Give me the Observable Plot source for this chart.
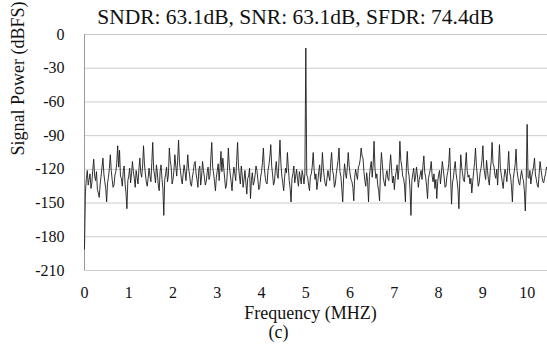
<!DOCTYPE html>
<html><head><meta charset="utf-8">
<script src="https://cdn.jsdelivr.net/npm/d3@7"></script>
<script src="https://cdn.jsdelivr.net/npm/@observablehq/plot@0.6"></script>
<style>
body{margin:0;background:#fff}
#chart svg, #chart svg text{font-family:"Liberation Serif","Tinos","Times New Roman",serif !important;}
</style>
</head><body><div id="chart"></div>
<script>
const titleText = "SNDR: 63.1dB, SNR: 63.1dB, SFDR: 74.4dB";
const xLabel = "Frequency (MHZ)";
const yLabel = "Signal Power (dBFS)";
const caption = "(c)";
const binWidthMHz = 1 / 48;
const powerDbfs = [
  -191,-140,-128,-121,-134,-129,-124,-137,-132,-120,-111,-126,-130,-122,-138,-141,-145,-133,-126,-118,-110,-124,-131,-137,
  -149,-132,-127,-119,-107,-121,-129,-136,-134,-125,-122,-114,-99,-118,-103,-126,-128,-135,-122,-117,-133,-141,-155,-130,
  -126,-119,-132,-124,-113,-122,-128,-136,-121,-127,-133,-120,-110,-123,-127,-117,-99,-115,-124,-131,-135,-128,-119,-126,
  -131,-114,-96,-120,-125,-132,-116,-123,-134,-139,-122,-116,-128,-137,-161,-129,-124,-118,-131,-125,-101,-112,-118,-133,
  -129,-121,-107,-117,-126,-112,-94,-114,-121,-128,-133,-124,-116,-122,-130,-119,-107,-120,-125,-133,-135,-127,-122,-115,
  -113,-124,-129,-136,-120,-117,-134,-126,-113,-121,-127,-134,-131,-123,-118,-129,-126,-110,-96,-118,-124,-131,-139,-127,
  -121,-115,-130,-118,-104,-122,-110,-119,-128,-137,-134,-121,-101,-116,-124,-131,-139,-126,-118,-124,-130,-112,-96,-117,
  -126,-133,-117,-125,-136,-129,-121,-132,-142,-128,-126,-119,-146,-130,-123,-134,-131,-125,-117,-121,-129,-138,-136,-127,
  -122,-114,-101,-119,-127,-132,-133,-121,-116,-109,-98,-117,-125,-134,-131,-120,-113,-125,-128,-111,-94,-115,-126,-132,
  -139,-127,-119,-123,-105,-118,-130,-137,-149,-128,-124,-117,-132,-126,-120,-129,-135,-122,-127,-133,-121,-126,-133,-124,
  -12,-125,-127,-134,-139,-126,-124,-117,-105,-120,-129,-124,-138,-131,-122,-116,-131,-123,-105,-119,-127,-133,-135,-128,
  -121,-126,-130,-114,-105,-121,-125,-136,-133,-124,-118,-112,-101,-122,-126,-137,-149,-127,-115,-123,-128,-118,-105,-117,
  -124,-129,-131,-136,-148,-127,-120,-125,-129,-118,-116,-111,-101,-108,-110,-122,-130,-135,-123,-131,-149,-126,-118,-113,
  -127,-116,-95,-119,-128,-124,-134,-139,-148,-121,-105,-115,-127,-132,-135,-125,-121,-128,-130,-117,-107,-120,-132,-126,
  -138,-127,-122,-116,-129,-120,-95,-112,-117,-126,-128,-134,-149,-119,-104,-121,-126,-138,-161,-130,-124,-119,-131,-127,
  -118,-125,-136,-129,-125,-121,-129,-117,-108,-123,-127,-135,-146,-128,-124,-120,-113,-126,-131,-124,-137,-129,-146,-131,
  -125,-121,-133,-124,-113,-120,-127,-136,-135,-126,-122,-115,-101,-127,-151,-132,-128,-119,-113,-124,-130,-138,-155,-129,
  -107,-118,-124,-130,-131,-117,-105,-121,-127,-125,-133,-128,-141,-131,-122,-114,-101,-117,-126,-135,-132,-123,-119,-112,
  -99,-118,-124,-129,-112,-121,-129,-134,-121,-113,-96,-115,-117,-125,-128,-120,-134,-116,-98,-119,-125,-131,-137,-127,
  -120,-124,-131,-118,-104,-123,-126,-135,-149,-128,-122,-116,-102,-121,-127,-132,-134,-126,-121,-127,-130,-139,-157,-131,
  -80,-127,-128,-121,-133,-126,-122,-117,-110,-125,-129,-134,-136,-124,-113,-120,-126,-131,-132,-127,-124,-118,-120
];
const xTicks = [0,1,2,3,4,5,6,7,8,9,10];
const yTicks = [0,-30,-60,-90,-120,-150,-180,-210];
const xMaxMHz = 10.46;

const data = powerDbfs.map((p, i) => ({f: i * binWidthMHz, p}));

const chart = Plot.plot({
  width: 547, height: 346,
  marginLeft: 84, marginRight: 0, marginTop: 34, marginBottom: 76,
  style: {fontSize: "16px", color: "#111", background: "#fff", overflow: "visible"},
  x: {domain: [0, xMaxMHz], label: null},
  y: {domain: [-210, 0], label: null},
  marks: [
    Plot.gridY(yTicks, {stroke: "#cdcdcd", strokeOpacity: 1, strokeWidth: 1}),
    Plot.ruleX([0], {stroke: "#9a9a9a", strokeWidth: 1}),
    Plot.line(data, {x: "f", y: "p", stroke: "#1c1c1c", strokeWidth: 0.9}),
    Plot.axisX(xTicks, {tickSize: 0, tickPadding: 16, tickFormat: d => String(d), fontSize: 16, label: null}),
    Plot.axisY(yTicks, {tickSize: 0, tickPadding: 20, tickFormat: d => String(d), fontSize: 16, label: null}),
    Plot.text([titleText], {frameAnchor: "top-left", dy: -17, dx: 211, textAnchor: "middle", fontSize: 21.5, lineAnchor: "middle", fill: "#111"}),
    Plot.text([xLabel], {frameAnchor: "bottom-left", dy: 43, dx: 226, textAnchor: "middle", fontSize: 18, lineAnchor: "middle", fill: "#111"}),
    Plot.text([caption], {frameAnchor: "bottom-left", dy: 62, dx: 194, textAnchor: "middle", fontSize: 18, lineAnchor: "middle", fill: "#111"}),
    Plot.text([yLabel], {frameAnchor: "left", dx: -66, dy: 3, rotate: -90, fontSize: 18, lineAnchor: "middle", fill: "#111"})
  ]
});
document.getElementById("chart").appendChild(chart);
</script>
</body></html>
